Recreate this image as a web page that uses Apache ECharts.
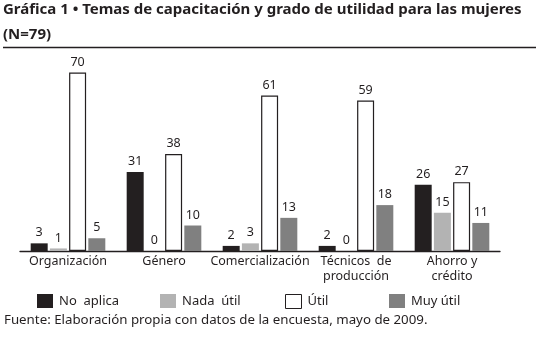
<!DOCTYPE html>
<html><head><meta charset="utf-8">
<script src="https://cdn.jsdelivr.net/npm/echarts@6/dist/echarts.min.js"></script>
<style>html,body{margin:0;padding:0;background:#fff}#c{width:536px;height:340px}</style>
</head><body><div id="c"></div>
<script>
const categories = ['Organización', 'Género', 'Comercialización', 'Técnicos  de\nproducción', 'Ahorro y\ncrédito'];
const noAplica = [3, 31, 2, 2, 26];
const nadaUtil = [1, 0, 3, 0, 15];
const util = [70, 38, 61, 59, 27];
const muyUtil = [5, 10, 13, 18, 11];
const seriesNames = ['No  aplica', 'Nada  útil', 'Útil', 'Muy útil'];
const titleLine1 = 'Gráfica 1 • Temas de capacitación y grado de utilidad para las mujeres';
const titleLine2 = '(N=79)';
const source = 'Fuente: Elaboración propia con datos de la encuesta, mayo de 2009.';

const FONT = '"Noto Sans", sans-serif';
const INK = '#231f20';
const chart = echarts.init(document.getElementById('c'), null, {renderer: 'canvas'});
const styles = [
  {color: INK},
  {color: '#b3b3b3'},
  {color: '#ffffff', borderColor: INK, borderWidth: 1.2},
  {color: '#808080'}
];
const data = [noAplica, nadaUtil, util, muyUtil];
const legendLeft = [37, 160, 285, 389];
const option = {
  animation: false,
  textStyle: {fontFamily: FONT},
  grid: {left: 20, right: 36, top: 47, bottom: 89, containLabel: false},
  xAxis: {
    type: 'category', data: categories,
    axisLine: {lineStyle: {color: INK, width: 1.3}},
    axisTick: {show: false},
    axisLabel: {interval: 0, color: INK, fontSize: 12.5, fontFamily: FONT, margin: 3, lineHeight: 15}
  },
  yAxis: {type: 'value', min: 0, max: 80, show: false},
  legend: seriesNames.map((n, i) => ({
    data: [{name: n, itemStyle: i === 2 ? {borderWidth: 1} : undefined}],
    left: legendLeft[i], top: 294, padding: 0, itemWidth: 16, itemHeight: 14, itemGap: 6,
    icon: 'rect',
    textStyle: {color: INK, fontSize: 13, fontFamily: FONT, padding: [0, 0, 0, 1]}
  })),
  series: seriesNames.map((n, i) => ({
    name: n, type: 'bar', data: data[i], barWidth: 17, barGap: '13%',
    itemStyle: styles[i],
    label: {show: true, position: 'top', distance: 4, color: INK, fontSize: 12.5, fontFamily: FONT}
  })),
  graphic: [
    {type: 'text', left: 3, top: 2, style: {text: titleLine1, font: 'bold 15px "Noto Sans", sans-serif', fill: INK}},
    {type: 'text', left: 3, top: 27, style: {text: titleLine2, font: 'bold 15px "Noto Sans", sans-serif', fill: INK}},
    {type: 'line', shape: {x1: 3, y1: 47.5, x2: 536, y2: 47.5}, style: {stroke: INK, lineWidth: 1.5}},
    {type: 'text', left: 4, top: 314, style: {text: source, font: '13.3px "Noto Sans", sans-serif', fill: INK}}
  ]
};
chart.setOption(option);
</script></body></html>
